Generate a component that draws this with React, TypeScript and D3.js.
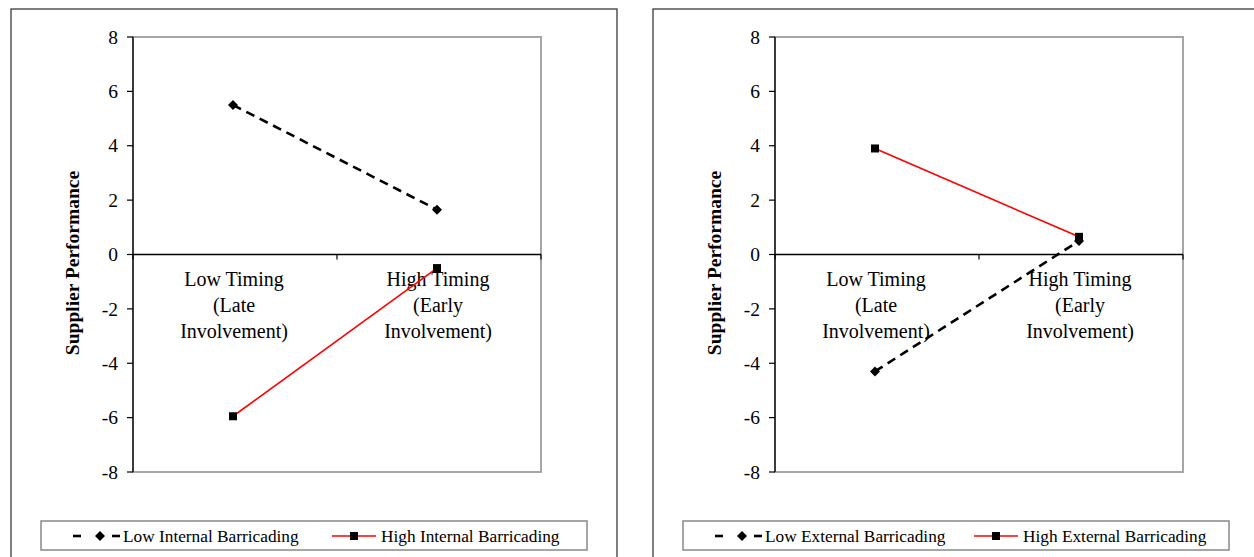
import React from "react";
import * as d3 from "d3";

const categories = ["Low Timing", "High Timing"];
const categoryLines = [
  ["Low Timing", "(Late", "Involvement)"],
  ["High Timing", "(Early", "Involvement)"],
];
const yTicks = [-8, -6, -4, -2, 0, 2, 4, 6, 8];
const yTitle = "Supplier Performance";

const lowInternal = [5.5, 1.65];
const highInternal = [-5.95, -0.5];
const lowExternal = [-4.3, 0.5];
const highExternal = [3.9, 0.65];

const panels = [
  {
    dx: 0,
    low: lowInternal,
    high: highInternal,
    lowName: "Low Internal Barricading",
    highName: "High Internal Barricading",
  },
  {
    dx: 642,
    low: lowExternal,
    high: highExternal,
    lowName: "Low External Barricading",
    highName: "High External Barricading",
  },
];

const FONT = "'Liberation Serif', 'Times New Roman', serif";

function Diamond({ x, y, r = 5 }: { x: number; y: number; r?: number }) {
  return (
    <path
      d={`M${x},${y - r}L${x + r},${y}L${x},${y + r}L${x - r},${y}Z`}
      fill="#000"
    />
  );
}

function Square({ x, y, s = 8 }: { x: number; y: number; s?: number }) {
  return <rect x={x - s / 2} y={y - s / 2} width={s} height={s} fill="#000" />;
}

function Panel({ p }: { p: (typeof panels)[number] }) {
  const left = 133;
  const right = 541;
  const top = 37;
  const bottom = 472;
  const x = d3.scaleBand<string>().domain(categories).range([left, right]).padding(0);
  const y = d3.scaleLinear().domain([-8, 8]).range([bottom, top]);
  const cx = (c: string) => (x(c) as number) + x.bandwidth() / 2 - 2;
  const line = d3
    .line<number>()
    .x((_, i) => cx(categories[i]))
    .y((v) => y(v));
  const y0 = y(0);
  const bounds = [left, left + x.bandwidth(), right];

  return (
    <g transform={`translate(${p.dx},0)`}>
      {/* outer frame */}
      <rect
        x={11}
        y={9}
        width={p.dx === 0 ? 606 : 700}
        height={600}
        fill="none"
        stroke="#3a3a3a"
        strokeWidth={1.3}
      />
      {/* plot area border */}
      <rect
        x={left}
        y={top}
        width={right - left}
        height={bottom - top}
        fill="none"
        stroke="#a6a6a6"
        strokeWidth={2}
      />
      {/* y axis */}
      <line x1={left} x2={left} y1={top} y2={bottom} stroke="#000" strokeWidth={1.3} />
      {yTicks.map((t) => (
        <g key={t}>
          <line x1={left - 6} x2={left} y1={y(t)} y2={y(t)} stroke="#000" strokeWidth={1.2} />
          <text
            x={left - 15}
            y={y(t)}
            dy="0.34em"
            textAnchor="end"
            fontFamily={FONT}
            fontSize={19.5}
            fill="#000"
          >
            {t}
          </text>
        </g>
      ))}
      {/* x axis at 0 */}
      <line x1={left} x2={right} y1={y0} y2={y0} stroke="#000" strokeWidth={1.3} />
      {bounds.map((b, i) => (
        <line key={i} x1={b} x2={b} y1={y0} y2={y0 + 5} stroke="#000" strokeWidth={1.2} />
      ))}
      {categories.map((c, i) => (
        <text
          key={c}
          textAnchor="middle"
          fontFamily={FONT}
          fontSize={20}
          fill="#000"
        >
          {categoryLines[i].map((l, j) => (
            <tspan key={j} x={cx(c) + 1} y={y0 + 31 + j * 26}>
              {l}
            </tspan>
          ))}
        </text>
      ))}
      {/* y title */}
      <text
        transform={`translate(79,263) rotate(-90)`}
        textAnchor="middle"
        fontFamily={FONT}
        fontSize={19.5}
        fontWeight="bold"
        fill="#000"
      >
        {yTitle}
      </text>
      {/* series */}
      <path
        d={line(p.low) || ""}
        fill="none"
        stroke="#000"
        strokeWidth={2.6}
        strokeDasharray="9,6"
      />
      {p.low.map((v, i) => (
        <Diamond key={i} x={cx(categories[i])} y={y(v)} />
      ))}
      <path d={line(p.high) || ""} fill="none" stroke="#ff0000" strokeWidth={1.6} />
      {p.high.map((v, i) => (
        <Square key={i} x={cx(categories[i])} y={y(v)} />
      ))}
      {/* legend */}
      <rect x={41} y={521} width={546} height={29} fill="#fff" stroke="#888" strokeWidth={1.5} />
      <line x1={73} x2={81} y1={536} y2={536} stroke="#000" strokeWidth={2.6} />
      <line x1={112} x2={120} y1={536} y2={536} stroke="#000" strokeWidth={2.6} />
      <Diamond x={100} y={536} r={5} />
      <text x={123} y={536} dy="0.34em" fontFamily={FONT} fontSize={17.3} fill="#000">
        {p.lowName}
      </text>
      <line x1={332} x2={376} y1={536} y2={536} stroke="#ff0000" strokeWidth={1.6} />
      <Square x={354} y={536} s={8} />
      <text x={381} y={536} dy="0.34em" fontFamily={FONT} fontSize={17.3} fill="#000">
        {p.highName}
      </text>
    </g>
  );
}

export default function App() {
  return (
    <svg
      width={1254}
      height={557}
      style={{ position: "absolute", left: 0, top: 0, background: "#fff" }}
    >
      <rect x={0} y={0} width={1254} height={557} fill="#fff" />
      {panels.map((p, i) => (
        <Panel key={i} p={p} />
      ))}
    </svg>
  );
}
